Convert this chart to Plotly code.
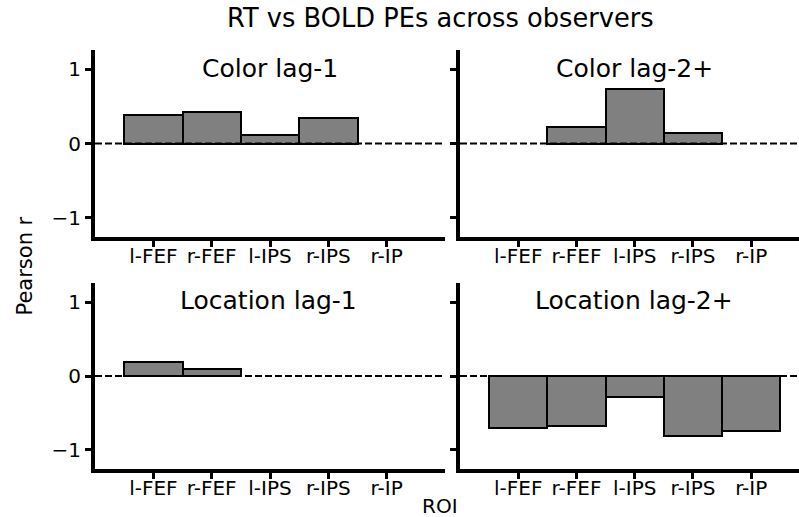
import plotly.graph_objects as go

rois = ["l-FEF", "r-FEF", "l-IPS", "r-IPS", "r-IP"]
color_lag1 = [0.38, 0.42, 0.11, 0.34, None]
color_lag2 = [None, 0.225, 0.74, 0.145, None]
location_lag1 = [0.19, 0.10, None, None, None]
location_lag2 = [-0.70, -0.68, -0.29, -0.81, -0.74]
panel_titles = ["Color lag-1", "Color lag-2+", "Location lag-1", "Location lag-2+"]
yticks = [-1, 0, 1]
yticklabels = ["\u22121", "0", "1"]

W, H = 799, 517
FONT = "DejaVu Sans"

panels = [
    (color_lag1, "x", "y", (95, 445), (50, 237), (270, 69), True),
    (color_lag2, "x2", "y2", (460, 799), (50, 237), (634, 68.5), False),
    (location_lag1, "x3", "y3", (95, 445), (283, 469), (268, 300.5), True),
    (location_lag2, "x4", "y4", (460, 799), (283, 469), (634, 300), False),
]

fig = go.Figure()
layout = dict(
    width=W, height=H,
    margin=dict(l=0, r=0, t=0, b=0),
    paper_bgcolor="white", plot_bgcolor="white",
    showlegend=False,
    font=dict(family=FONT, color="black"),
    bargap=0,
)
shapes = []
annotations = []

for i, (vals, xa, ya, xd, yd, tpos, left) in enumerate(panels):
    fig.add_trace(go.Bar(
        x=rois, y=vals, width=1.0,
        marker=dict(color="#808080", line=dict(color="black", width=2)),
        xaxis=xa, yaxis=ya, hoverinfo="skip",
    ))
    xkey = "xaxis" if xa == "x" else "xaxis" + xa[1:]
    ykey = "yaxis" if ya == "y" else "yaxis" + ya[1:]
    xr = [-1, 5] if left else [-1, 4.82]
    layout[xkey] = dict(
        domain=[xd[0] / W, xd[1] / W], anchor=ya,
        type="category", categoryorder="array", categoryarray=rois,
        range=xr, showgrid=False, zeroline=False,
        showline=True, linecolor="black", linewidth=4,
        ticks="outside", ticklen=6, tickwidth=3, tickcolor="black",
        tickfont=dict(family=FONT, size=20, color="black"),
        ticklabelstandoff=-8,
    )
    layout[ykey] = dict(
        domain=[1 - yd[1] / H, 1 - yd[0] / H], anchor=xa,
        range=[-1.26, 1.26], showgrid=False, zeroline=False,
        showline=True, linecolor="black", linewidth=4,
        ticks="outside", ticklen=6, tickwidth=3, tickcolor="black",
        tickvals=yticks, ticktext=yticklabels,
        showticklabels=left,
        tickfont=dict(family=FONT, size=20, color="black"),
    )
    shapes.append(dict(
        type="line", xref=f"{xa} domain", yref=ya,
        x0=0, x1=1, y0=0, y1=0,
        line=dict(color="black", width=2, dash="7px,3px"),
        layer="above",
    ))
    annotations.append(dict(
        text=panel_titles[i], xref="paper", yref="paper",
        x=tpos[0] / W, y=1 - tpos[1] / H, xanchor="center", yanchor="middle",
        showarrow=False, font=dict(family=FONT, size=25, color="black"),
    ))

annotations.append(dict(
    text="RT vs BOLD PEs across observers", xref="paper", yref="paper",
    x=440 / W, y=1 - 18.5 / H, xanchor="center", yanchor="middle",
    showarrow=False, font=dict(family=FONT, size=25.7, color="black"),
))
annotations.append(dict(
    text="Pearson r", xref="paper", yref="paper", textangle=-90,
    x=24 / W, y=1 - 266.5 / H, xanchor="center", yanchor="middle",
    showarrow=False, font=dict(family=FONT, size=21, color="black"),
))
annotations.append(dict(
    text="ROI", xref="paper", yref="paper",
    x=440 / W, y=0, xanchor="center", yanchor="bottom", borderpad=0,
    yshift=-2,
    showarrow=False, font=dict(family=FONT, size=20, color="black"),
))

layout["shapes"] = shapes
layout["annotations"] = annotations
fig.update_layout(**layout)
fig.write_html("out.html")
